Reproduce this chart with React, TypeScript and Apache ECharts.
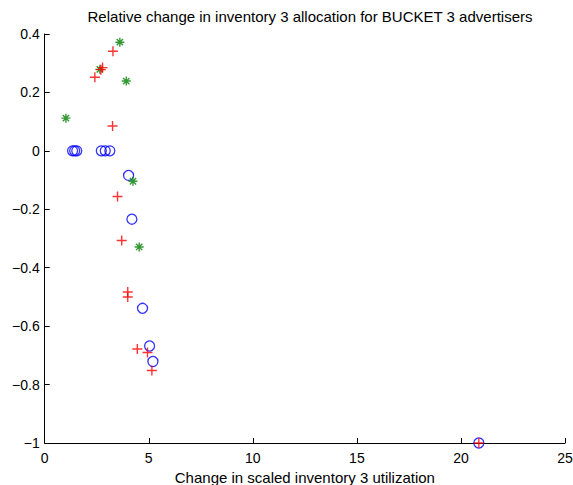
import React, { useEffect, useRef } from "react";
import * as echarts from "echarts";

const titleText = "Relative change in inventory 3 allocation for BUCKET 3 advertisers";
const xAxisName = "Change in scaled inventory 3 utilization";

const circleX = [1.34, 1.44, 1.54, 2.72, 2.91, 3.13, 4.03, 4.19, 4.70, 5.04, 5.20, 20.86];
const circleY = [0, 0, 0, 0, 0, 0, -0.084, -0.234, -0.539, -0.668, -0.721, -1];

const starX = [3.61, 2.65, 3.92, 1.02, 4.24, 4.54];
const starY = [0.372, 0.279, 0.239, 0.112, -0.104, -0.329];

const plusX = [3.28, 2.70, 2.78, 2.41, 3.26, 3.50, 3.70, 3.99, 3.99, 4.45, 4.94, 5.15, 20.86];
const plusY = [0.341, 0.278, 0.285, 0.252, 0.085, -0.156, -0.307, -0.483, -0.5, -0.678, -0.69, -0.752, -1];

const FONT = "'Liberation Sans', Arial, Helvetica, sans-serif";

function zip(xs: number[], ys: number[]) {
  return xs.map((x, i) => [x, ys[i]]);
}

function fmt(v: number) {
  const r = Number(v.toFixed(1));
  if (r === 0) return "0";
  return String(r).replace("-", "\u2212");
}

export default function App() {
  const ref = useRef<HTMLDivElement>(null);
  useEffect(() => {
    if (!ref.current) return;
    const chart = echarts.init(ref.current, undefined, { renderer: "svg" });
    const axisCommon = {
      axisLine: { show: true, onZero: false, lineStyle: { color: "#000", width: 1 } },
      axisTick: { show: true, inside: true, length: 5, lineStyle: { color: "#000" } },
      splitLine: { show: false },
      axisLabel: { color: "#000", fontSize: 14, fontFamily: FONT },
    };
    chart.setOption({
      animation: false,
      backgroundColor: "#fff",
      title: {
        text: titleText,
        left: 305,
        textAlign: "center",
        top: 4,
        textStyle: { fontSize: 15, fontWeight: "normal", color: "#000", fontFamily: FONT },
      },
      grid: { left: 44.7, right: 8, top: 34, bottom: 42, containLabel: false, outerBoundsMode: "none" },
      xAxis: {
        type: "value",
        min: 0,
        max: 25,
        interval: 5,
        name: xAxisName,
        nameLocation: "middle",
        nameGap: 20,
        nameTextStyle: { fontSize: 15, color: "#000", fontFamily: FONT },
        ...axisCommon,
        axisLabel: { ...axisCommon.axisLabel, margin: 8, formatter: (v: number) => fmt(v) },
      },
      yAxis: {
        type: "value",
        min: -1,
        max: 0.4,
        interval: 0.2,
        ...axisCommon,
        axisLabel: { ...axisCommon.axisLabel, margin: 5, formatter: (v: number) => fmt(v) },
      },
      series: [
        {
          type: "scatter",
          data: zip(circleX, circleY),
          symbol: "circle",
          symbolSize: 10,
          itemStyle: { color: "transparent", borderColor: "#0000ff", borderWidth: 1.3 },
          z: 2,
        },
        {
          type: "scatter",
          data: zip(starX, starY),
          symbol: "path://M0,5L10,5M5,0L5,10M1.5,1.5L8.5,8.5M1.5,8.5L8.5,1.5",
          symbolSize: 9,
          itemStyle: { color: "transparent", borderColor: "#008000", borderWidth: 1.4 },
          z: 3,
        },
        {
          type: "scatter",
          data: zip(plusX, plusY),
          symbol: "path://M0,5L10,5M5,0L5,10",
          symbolSize: 10,
          itemStyle: { color: "transparent", borderColor: "#ff0000", borderWidth: 1.4 },
          z: 4,
        },
      ],
    });
    return () => chart.dispose();
  }, []);
  return <div ref={ref} style={{ width: 573, height: 485, position: "absolute", left: 0, top: 0 }} />;
}
